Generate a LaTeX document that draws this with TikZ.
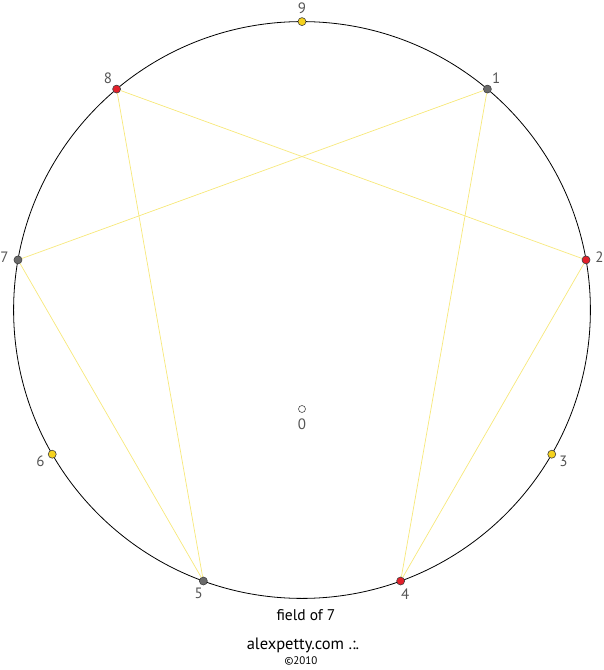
\documentclass[tikz,border=0pt]{standalone}
\usepackage{fontspec}
\setmainfont{PT Sans}

\definecolor{dotyellow}{HTML}{F5D21E}
\definecolor{dotred}{HTML}{E3202A}
\definecolor{dotgrey}{HTML}{6A6A6A}
\definecolor{linkyellow}{HTML}{F7E87A}
\definecolor{labelgrey}{HTML}{555555}

\tikzset{
  dot/.style={circle, draw=black!75, line width=0.6pt, inner sep=0pt, minimum size=8pt},
  numlabel/.style={text=labelgrey, inner sep=0pt, font=\fontsize{15}{17}\selectfont},
  link/.style={draw=linkyellow, line width=0.7pt},
  caption/.style={inner sep=0pt, font=\fontsize{15.5}{18}\selectfont}
}

\begin{document}
\begin{tikzpicture}[x=1pt,y=1pt]
    \useasboundingbox (-302,-360) rectangle (302,310);

    % Outer circle
    \draw[line width=0.8pt] (0,0) circle (288.4);

    % Points on the circle and their numbers
    \foreach \n/\c in {9/dotyellow, 1/dotgrey, 2/dotred, 3/dotyellow, 4/dotred,
                       5/dotgrey, 6/dotyellow, 7/dotgrey, 8/dotred} {
        \pgfmathsetmacro\ang{90-40*\n}
        \node[dot, fill=\c] (p\n) at (\ang:288.4) {};
        \node[numlabel] (l\n) at (\ang:302) {\n};
    }

    % Centre point
    \node[dot, fill=white, draw=black!70, minimum size=7pt] (p0) at (0,-99) {};
    \node[numlabel] (l0) at (0,-114) {0};

    % Links of the field
    \draw[link] (p1) -- (p4);
    \draw[link] (p4) -- (p2);
    \draw[link] (p2) -- (p8);
    \draw[link] (p8) -- (p5);
    \draw[link] (p5) -- (p7);
    \draw[link] (p7) -- (p1);

    % Captions
    \node[caption] (title) at (4,-305) {field of 7};
    \node[caption, font=\fontsize{16.5}{19}\selectfont] (site) at (1,-335) {alexpetty.com .:.};
    \node[caption, font=\fontsize{11}{13}\selectfont] (year) at (-1,-351) {©2010};
\end{tikzpicture}
\end{document}
